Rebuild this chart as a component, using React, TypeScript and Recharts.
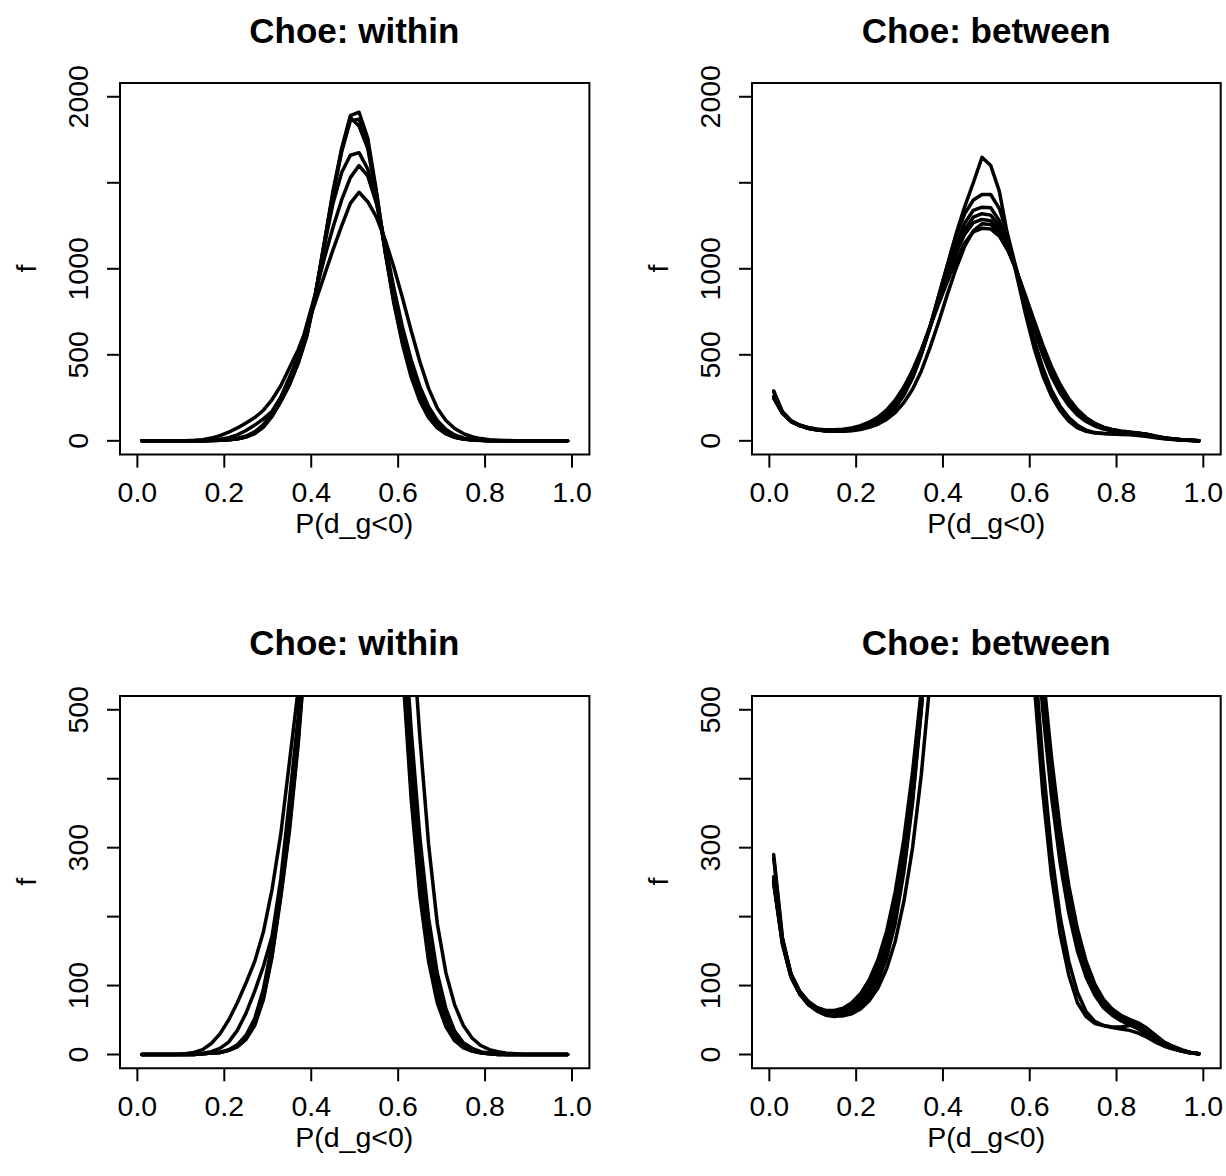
import React from 'react';
import { LineChart, Line, XAxis, YAxis, ReferenceArea } from 'recharts';

// grid of P(d_g<0) values (bin centres)
const pGrid = [
  0.01, 0.03, 0.05, 0.07, 0.09, 0.11, 0.13, 0.15, 0.17, 0.19,
  0.21, 0.23, 0.25, 0.27, 0.29, 0.31, 0.33, 0.35, 0.37, 0.39,
  0.41, 0.43, 0.45, 0.47, 0.49, 0.51, 0.53, 0.55, 0.57, 0.59,
  0.61, 0.63, 0.65, 0.67, 0.69, 0.71, 0.73, 0.75, 0.77, 0.79,
  0.81, 0.83, 0.85, 0.87, 0.89, 0.91, 0.93, 0.95, 0.97, 0.99,
];

// "within" curves
const withinA = [0,0,0,0,0,0,0,1,2,3,6,11,22,42,80,142,228,325,450,610,850,1150,1450,1700,1890,
  1910,1760,1450,1100,800,560,370,230,135,75,40,20,10,5,3,1,0,0,0,0,0,0,0,0,0];
const withinB = [0,0,0,0,0,0,0,1,2,3,6,12,24,45,85,150,235,335,460,620,860,1150,1440,1690,1880,
  1830,1700,1420,1100,820,580,390,245,145,82,44,22,11,6,3,1,0,0,0,0,0,0,0,0,0];
const withinC = [0,0,0,0,0,0,0,1,2,3,7,14,28,52,95,160,245,345,470,630,860,1130,1380,1560,1660,
  1675,1580,1390,1120,850,615,425,275,168,98,54,28,14,7,3,2,1,0,0,0,0,0,0,0,0];
const withinD = [0,0,0,0,0,0,1,2,4,9,18,35,60,92,128,172,255,370,490,680,860,1060,1240,1400,1530,
  1600,1540,1380,1150,890,660,470,315,198,118,66,34,17,9,4,2,1,0,0,0,0,0,0,0,0];
const withinE = [0,0,0,0,0,1,3,7,16,30,50,75,104,135,178,240,320,425,530,660,810,960,1110,1250,1380,
  1445,1390,1300,1170,1010,830,640,460,305,190,118,72,42,24,13,7,4,2,1,0,0,0,0,0,0];
const withinF = [0,0,0,0,0,0,0,1,2,3,6,12,23,44,82,146,232,330,455,615,850,1140,1430,1680,1860,
  1870,1730,1440,1110,815,575,385,240,142,80,43,21,10,5,2,1,0,0,0,0,0,0,0,0,0];

// "between" curves
const betweenL1 = [290,170,115,88,72,63,57,55,57,62,70,84,105,140,190,265,365,500,660,840,1020,1200,1360,1500,1648,
  1601,1450,1180,960,740,540,380,260,175,115,75,55,45,42,40,40,42,44,38,25,15,9,5,2,1];
const betweenL2 = [258,165,113,88,73,64,59,57,59,64,73,88,111,147,198,272,372,500,660,840,1020,1190,1320,1400,1432,
  1432,1350,1190,990,780,590,425,295,200,135,90,62,48,42,39,37,35,31,25,18,12,8,5,2,1];
const betweenL3 = [250,162,112,88,73,64,59,58,60,65,75,90,115,152,205,280,380,505,655,820,985,1140,1265,1340,1358,
  1355,1280,1150,990,815,650,500,375,278,205,150,112,86,68,57,49,43,37,29,21,14,9,5,3,1];
const betweenL4 = [285,168,116,90,75,66,61,59,61,67,77,94,120,158,213,290,390,515,660,815,965,1105,1225,1300,1320,
  1312,1250,1135,985,820,660,512,388,290,214,158,118,90,72,60,52,46,40,32,23,15,10,6,3,1];
const betweenL5 = [255,166,117,92,77,68,63,62,64,70,81,99,126,165,222,300,400,522,665,815,960,1090,1200,1268,1287,
  1280,1225,1120,980,825,670,525,400,300,222,165,124,95,76,63,54,48,43,35,25,17,11,6,3,1];
const betweenL6 = [248,160,112,88,73,64,59,57,56,59,66,78,96,124,164,222,300,405,540,690,850,1000,1130,1220,1262,
  1258,1210,1115,985,835,685,540,415,312,232,172,128,98,78,64,55,49,44,36,26,17,11,6,3,1];
const betweenL7 = [252,163,114,90,76,68,64,64,67,75,88,108,137,178,236,313,410,528,660,795,925,1045,1150,1215,1235,
  1232,1190,1105,985,845,700,558,432,328,245,182,135,102,80,66,57,51,46,38,28,18,12,7,3,1];

const withinSeries = [withinA, withinB, withinC, withinD, withinE, withinF];
const betweenSeries = [betweenL1, betweenL2, betweenL3, betweenL4, betweenL5, betweenL6, betweenL7];

const xTicks = [0, 0.2, 0.4, 0.6, 0.8, 1.0];
const xTickLabels = ['0.0', '0.2', '0.4', '0.6', '0.8', '1.0'];
const topYTicks = [0, 500, 1000, 1500, 2000];
const topYLabels = ['0', '500', '1000', '', '2000'];
const bottomYTicks = [0, 100, 200, 300, 400, 500];
const bottomYLabels = ['0', '100', '', '300', '', '500'];
const titles = ['Choe: within', 'Choe: between'];
const xLabel = 'P(d_g<0)';
const yLabel = 'f';

const FONT = '"Liberation Sans", Arial, Helvetica, sans-serif';
const TICK_FS = 28.5;

function buildTable(series: number[][]) {
  return pGrid.map((p, i) => {
    const row: Record<string, number> = { p };
    series.forEach((s, k) => {
      row['s' + k] = s[i];
    });
    return row;
  });
}

const withinData = buildTable(withinSeries);
const betweenData = buildTable(betweenSeries);

type PanelProps = {
  boxL: number; boxT: number; boxR: number; boxB: number;
  data: Record<string, number>[];
  nSeries: number;
  yDomain: [number, number];
  yTicks: number[];
  yLabels: string[];
};

const Y_AXIS_W = 60;
const X_AXIS_H = 60;
const M_TOP = 45;
const M_RIGHT = 5;
const TICK_LEN = 13;

function Panel({ boxL, boxT, boxR, boxB, data, nSeries, yDomain, yTicks, yLabels }: PanelProps) {
  const w = boxR - boxL + Y_AXIS_W + M_RIGHT;
  const h = boxB - boxT + M_TOP + X_AXIS_H;
  const keys = Array.from({ length: nSeries }, (_, k) => 's' + k);
  const renderXTick = (props: any) => {
    const { x, y, payload } = props;
    const idx = xTicks.findIndex((t) => Math.abs(t - payload.value) < 1e-9);
    return (
      <text x={x} y={y + 34.4} textAnchor="middle" fontFamily={FONT} fontSize={TICK_FS} fill="#000">
        {idx >= 0 ? xTickLabels[idx] : ''}
      </text>
    );
  };
  const renderYTick = (props: any) => {
    const { x, y, payload } = props;
    const idx = yTicks.findIndex((t) => Math.abs(t - payload.value) < 1e-9);
    const bx = x - 18.7;
    return (
      <text x={bx} y={y} transform={`rotate(-90, ${bx}, ${y})`} textAnchor="middle" fontFamily={FONT} fontSize={TICK_FS} fill="#000">
        {idx >= 0 ? yLabels[idx] : ''}
      </text>
    );
  };
  return (
    <div style={{ position: 'absolute', left: boxL - Y_AXIS_W, top: boxT - M_TOP, width: w, height: h }}>
      <LineChart width={w} height={h} data={data} margin={{ top: M_TOP, right: M_RIGHT, bottom: 0, left: 0 }}>
        <XAxis
          dataKey="p"
          type="number"
          domain={[-0.04, 1.04]}
          ticks={xTicks}
          allowDataOverflow
          height={X_AXIS_H}
          tickSize={TICK_LEN}
          tickMargin={0}
          axisLine={false}
          tickLine={{ stroke: '#000', strokeWidth: 2 }}
          interval={0}
          tick={renderXTick}
        />
        <YAxis
          type="number"
          domain={yDomain}
          ticks={yTicks}
          allowDataOverflow
          width={Y_AXIS_W}
          tickSize={TICK_LEN}
          tickMargin={0}
          axisLine={false}
          tickLine={{ stroke: '#000', strokeWidth: 2 }}
          interval={0}
          tick={renderYTick}
        />
        <ReferenceArea
          x1={-0.04}
          x2={1.04}
          y1={yDomain[0]}
          y2={yDomain[1]}
          fill="none"
          fillOpacity={0}
          stroke="#000"
          strokeWidth={2}
          ifOverflow="visible"
        />
        {keys.map((k) => (
          <Line
            key={k}
            dataKey={k}
            type="linear"
            stroke="#000"
            strokeWidth={3.5}
            strokeLinejoin="round"
            strokeLinecap="round"
            dot={false}
            activeDot={false}
            isAnimationActive={false}
          />
        ))}
      </LineChart>
    </div>
  );
}

const LEFT_BOX = { boxL: 119.6, boxR: 589 };
const RIGHT_BOX = { boxL: 751.8, boxR: 1220.5 };
const TOP_ROW = { boxT: 82.7, boxB: 454.3 };
const BOTTOM_ROW = { boxT: 695.5, boxB: 1067.8 };

export default function App() {
  const panels = [
    { ...LEFT_BOX, ...TOP_ROW, data: withinData, n: withinSeries.length, dom: [-80, 2080] as [number, number], yt: topYTicks, yl: topYLabels, title: titles[0] },
    { ...RIGHT_BOX, ...TOP_ROW, data: betweenData, n: betweenSeries.length, dom: [-80, 2080] as [number, number], yt: topYTicks, yl: topYLabels, title: titles[1] },
    { ...LEFT_BOX, ...BOTTOM_ROW, data: withinData, n: withinSeries.length, dom: [-20, 520] as [number, number], yt: bottomYTicks, yl: bottomYLabels, title: titles[0] },
    { ...RIGHT_BOX, ...BOTTOM_ROW, data: betweenData, n: betweenSeries.length, dom: [-20, 520] as [number, number], yt: bottomYTicks, yl: bottomYLabels, title: titles[1] },
  ];
  return (
    <div style={{ position: 'absolute', left: 0, top: 0, width: 1226, height: 1176, background: '#fff' }}>
      {panels.map((p, i) => (
        <Panel
          key={i}
          boxL={p.boxL}
          boxR={p.boxR}
          boxT={p.boxT}
          boxB={p.boxB}
          data={p.data}
          nSeries={p.n}
          yDomain={p.dom}
          yTicks={p.yt}
          yLabels={p.yl}
        />
      ))}
      <svg width={1226} height={1176} style={{ position: 'absolute', left: 0, top: 0, pointerEvents: 'none' }}>
        {panels.map((p, i) => {
          const cx = (p.boxL + p.boxR) / 2;
          const cy = (p.boxT + p.boxB) / 2;
          const yb = p.boxL - 84;
          return (
            <g key={i}>
              <text x={cx} y={p.boxT - 40.2} textAnchor="middle" fontFamily={FONT} fontWeight="bold" fontSize={35} fill="#000">
                {p.title}
              </text>
              <text x={cx} y={p.boxB + 78.7} textAnchor="middle" fontFamily={FONT} fontSize={TICK_FS} fill="#000">
                {xLabel}
              </text>
              <text x={yb} y={cy} transform={`rotate(-90, ${yb}, ${cy})`} textAnchor="middle" fontFamily={FONT} fontSize={TICK_FS} fill="#000">
                {yLabel}
              </text>
            </g>
          );
        })}
      </svg>
    </div>
  );
}
